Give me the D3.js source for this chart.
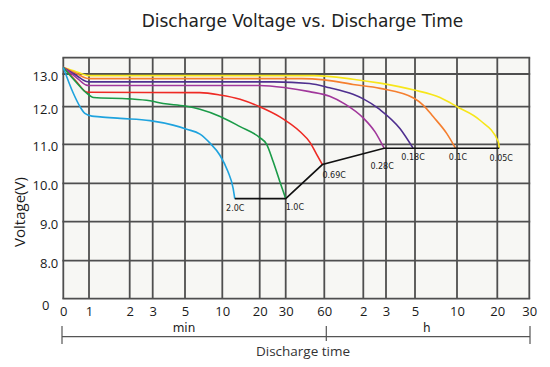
<!DOCTYPE html>
<html>
<head>
<meta charset="utf-8">
<script src="https://cdn.jsdelivr.net/npm/d3@7"></script>
<style>
  html, body { margin: 0; padding: 0; background: #fff; }
  svg { display: block; }
</style>
</head>
<body>
<svg id="chart" width="550" height="367"></svg>
<script>
// ---------- DATA ----------
const title = "Discharge Voltage vs. Discharge Time";
const yAxisTitle = "Voltage(V)";
const xAxisTitle = "Discharge time";
const unitLabels = ["min", "h"];

// x ticks in minutes and their labels
const xTickMinutes = [0, 1, 2, 3, 5, 10, 20, 30, 60, 120, 180, 300, 600, 1200, 1800];
const xTickLabels = ["0", "1", "2", "3", "5", "10", "20", "30", "60", "2", "3", "5", "10", "20", "30"];
const yTickValues = [8, 9, 10, 11, 12, 13];
const yBreakValues = [0, 8, 9, 10, 11, 12, 13, 13.5];

const seriesNames = ["2.0C", "1.0C", "0.69C", "0.28C", "0.18C", "0.1C", "0.05C"];
// [minutes, volts]
const curve2C = [[0,13.2],[0.39,12.41],[0.65,12.0],[0.84,11.82],[1.05,11.75],[1.21,11.73],[1.7,11.69],[2.86,11.63],[4.14,11.51],[5.16,11.40],[6.61,11.27],[7.96,11.03],[9.57,10.72],[11.1,10.3],[12.2,9.88],[12.6,9.6]];
const curve1C = [[0,13.2],[0.5,12.75],[0.9,12.42],[1.08,12.28],[2,12.24],[2.86,12.18],[3.54,12.10],[5,12.02],[6.6,11.93],[9.6,11.74],[13.9,11.47],[20,11.18],[22.3,11.0],[24.7,10.55],[27.4,10.04],[30,9.6]];
const curve069C = [[0,13.2],[0.5,12.78],[0.9,12.45],[1,12.44],[6.6,12.43],[9.57,12.36],[13.9,12.23],[20,12.0],[27.4,11.73],[38.7,11.34],[46.4,11.05],[52.3,10.74],[58,10.48]];
const curve028C = [[0,13.2],[0.5,12.9],[0.9,12.66],[1,12.65],[20,12.65],[30,12.58],[46,12.46],[66,12.32],[86.8,12.08],[120,11.70],[148,11.33],[174,10.9]];
const curve018C = [[0,13.2],[0.5,12.96],[0.9,12.77],[1,12.76],[25,12.76],[46,12.71],[66,12.58],[100,12.38],[120,12.24],[162,11.92],[230,11.42],[290,10.9]];
const curve01C = [[0,13.2],[0.5,13.02],[0.9,12.87],[1,12.86],[40,12.86],[60,12.82],[100,12.68],[162,12.56],[295,12.26],[343,12.05],[406,11.73],[506,11.29],[585,10.9]];
const curve005C = [[0,13.2],[0.5,13.07],[0.9,12.96],[1,12.95],[50,12.95],[100,12.84],[162,12.72],[295,12.51],[453,12.28],[600,12.0],[891,11.64],[1215,11.07],[1230,10.9]];
const cutoffLine = [[12.6,9.6],[30,9.6],[58,10.48],[174,10.9],[1230,10.9]];

// ---------- LAYOUT / STYLE ----------
const xTickPx = [63.3, 89, 129.7, 152.7, 185, 222.3, 259.7, 285.7, 324.3, 363.3, 386, 415, 457, 497.3, 529.3];
const yBreakPx = [298.7, 260.7, 221.7, 183.3, 144.3, 106.7, 74, 57.7];
const colors = ["#1fa3de", "#1b9b48", "#ee2a24", "#a1379b", "#4f2f8f", "#f57f2f", "#f7e61a"];
const labelPos = [ // [dx, dy, anchor] relative to end point
  [0.5, 12.5, "middle"], [0, 11, "start"], [0, 13.5, "start"], [-2, 21, "middle"],
  [0, 11.5, "middle"], [2.5, 11.5, "middle"], [2, 13, "middle"]
];

(function () {
const svg = d3.select("#chart");
const fx = t => (t < 1 ? t - 1 : Math.log10(t));
const sx = d3.scaleLinear().domain(xTickMinutes.map(fx)).range(xTickPx);
const x = t => sx(fx(t));
const y = d3.scaleLinear().domain(yBreakValues).range(yBreakPx);

const pLeft = x(0), pRight = x(1800), pTop = y(13.5), pBottom = y(0);

// plot background
svg.append("rect").attr("x", pLeft).attr("y", pTop)
  .attr("width", pRight - pLeft).attr("height", pBottom - pTop)
  .attr("fill", "#f7f7f4");

// grid
const gridColor = "#4f4f4f";
const g = svg.append("g");
xTickMinutes.forEach(t => {
  g.append("line").attr("x1", x(t)).attr("x2", x(t)).attr("y1", pTop).attr("y2", pBottom)
    .attr("stroke", gridColor).attr("stroke-width", 1.8);
});
[0, ...yTickValues, 13.5].forEach(v => {
  g.append("line").attr("x1", pLeft - 0.9).attr("x2", pRight + 0.9).attr("y1", y(v)).attr("y2", y(v))
    .attr("stroke", gridColor).attr("stroke-width", 1.8);
});

// axes labels
const fontAxis = "'Open Sans', 'DejaVu Sans', sans-serif";
const xAxis = d3.axisBottom(sx).tickValues(xTickMinutes.map(fx))
  .tickFormat((d, i) => xTickLabels[i]).tickSize(0).tickPadding(0);
const gx = svg.append("g").attr("transform", `translate(0,${pBottom})`).call(xAxis);
gx.select(".domain").remove();
gx.selectAll("text").attr("font-family", fontAxis).attr("font-size", 13).attr("fill", "#1a1a1a")
  .attr("y", 17.8).attr("dy", 0);

const yAxis = d3.axisLeft(y).tickValues(yTickValues).tickFormat(d3.format(".1f")).tickSize(0).tickPadding(5);
const gy = svg.append("g").attr("transform", `translate(${pLeft},0)`).call(yAxis);
gy.select(".domain").remove();
gy.selectAll("text").attr("font-family", fontAxis).attr("font-size", 13).attr("fill", "#1a1a1a").attr("dy", "0.5em");

svg.append("text").attr("x", pLeft - 17.5).attr("y", y(0) + 11.5)
  .attr("text-anchor", "middle").attr("font-family", fontAxis).attr("font-size", 13).attr("fill", "#1a1a1a").text("0");

// curves
const line = d3.line().x(d => x(d[0])).y(d => y(d[1])).curve(d3.curveMonotoneX);
const curves = [curve2C, curve1C, curve069C, curve028C, curve018C, curve01C, curve005C];
curves.slice().reverse().forEach((c, ri) => {
  const i = curves.length - 1 - ri;
  svg.append("path").attr("d", line(c)).attr("fill", "none")
    .attr("stroke", colors[i]).attr("stroke-width", 1.6).attr("stroke-linejoin", "round");
});

// cutoff line
svg.append("path").attr("d", d3.line().x(d => x(d[0])).y(d => y(d[1]))(cutoffLine))
  .attr("fill", "none").attr("stroke", "#111").attr("stroke-width", 1.6);

// series labels
curves.forEach((c, i) => {
  const end = c[c.length - 1];
  const [dx, dy, anchor] = labelPos[i];
  svg.append("text").attr("x", x(end[0]) + dx).attr("y", y(end[1]) + dy)
    .attr("text-anchor", anchor).attr("font-family", "'DejaVu Sans', sans-serif")
    .attr("font-size", 8).attr("fill", "#222").text(seriesNames[i]);
});

// title
svg.append("text").attr("x", 302.5).attr("y", 27).attr("text-anchor", "middle")
  .attr("font-family", "'DejaVu Sans', sans-serif").attr("font-size", 17).attr("fill", "#222").text(title);

// y axis title
svg.append("text").attr("transform", `translate(24.5,212) rotate(-90)`).attr("text-anchor", "middle")
  .attr("font-family", fontAxis).attr("font-size", 15).attr("fill", "#1a1a1a").text(yAxisTitle);

// unit labels
const fontUnit = "'DejaVu Sans', sans-serif";
svg.append("text").attr("x", 184).attr("y", 332).attr("text-anchor", "middle")
  .attr("font-family", fontUnit).attr("font-size", 12).attr("fill", "#1a1a1a").text(unitLabels[0]);
svg.append("text").attr("x", 426.7).attr("y", 332).attr("text-anchor", "middle")
  .attr("font-family", fontUnit).attr("font-size", 12).attr("fill", "#1a1a1a").text(unitLabels[1]);

// bracket
const bY = 336.7;
svg.append("line").attr("x1", pLeft - 1.3).attr("x2", pRight + 0.7).attr("y1", bY).attr("y2", bY)
  .attr("stroke", "#555").attr("stroke-width", 1.2);
[[pLeft - 1.3, 326, 344], [x(60) + 2, 326, 341], [pRight + 0.7, 326, 344]].forEach(([bx, y1, y2]) => {
  svg.append("line").attr("x1", bx).attr("x2", bx).attr("y1", y1).attr("y2", y2)
    .attr("stroke", "#555").attr("stroke-width", 1.2);
});
svg.append("text").attr("x", 303).attr("y", 355.5).attr("text-anchor", "middle")
  .attr("font-family", fontAxis).attr("font-size", 13.5).attr("fill", "#333").text(xAxisTitle);
})();
</script>
</body>
</html>
